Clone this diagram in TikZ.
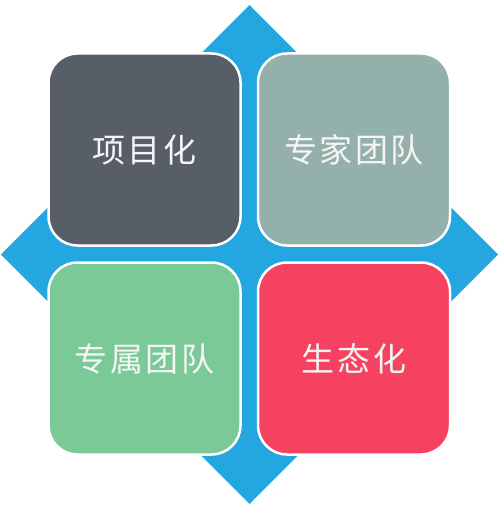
\documentclass[tikz,border=0pt]{standalone}
\usepackage{fontspec}
\newfontfamily\cjk[LetterSpace=8]{Noto Sans CJK SC}
\definecolor{diamondblue}{RGB}{36,166,224}
\definecolor{slategrey}{RGB}{87,94,104}
\definecolor{sagegrey}{RGB}{148,176,170}
\definecolor{mintgreen}{RGB}{122,201,150}
\definecolor{rosered}{RGB}{246,66,97}
\begin{document}
\begin{tikzpicture}[x=1pt,y=-1pt,
	box/.style={draw=white,line width=2.5pt,rounded corners=29pt,minimum size=192pt,inner sep=0pt,
		text=white!96!black,font=\cjk\fontsize{33}{36}\selectfont}]
	\useasboundingbox (0,0) rectangle (499,510);
	\fill[diamondblue] (249.5,5) -- (498,254.5) -- (249.5,504) -- (1,254.5) -- cycle;
	\node[box,fill=slategrey] (proj) at (144.5,149.5) {项目化};
	\node[box,fill=sagegrey] (expert) at (354,149.5) {专家团队};
	\node[box,fill=mintgreen] (dedicated) at (144.5,358.5) {专属团队};
	\node[box,fill=rosered] (eco) at (354,358.5) {生态化};
\end{tikzpicture}
\end{document}
